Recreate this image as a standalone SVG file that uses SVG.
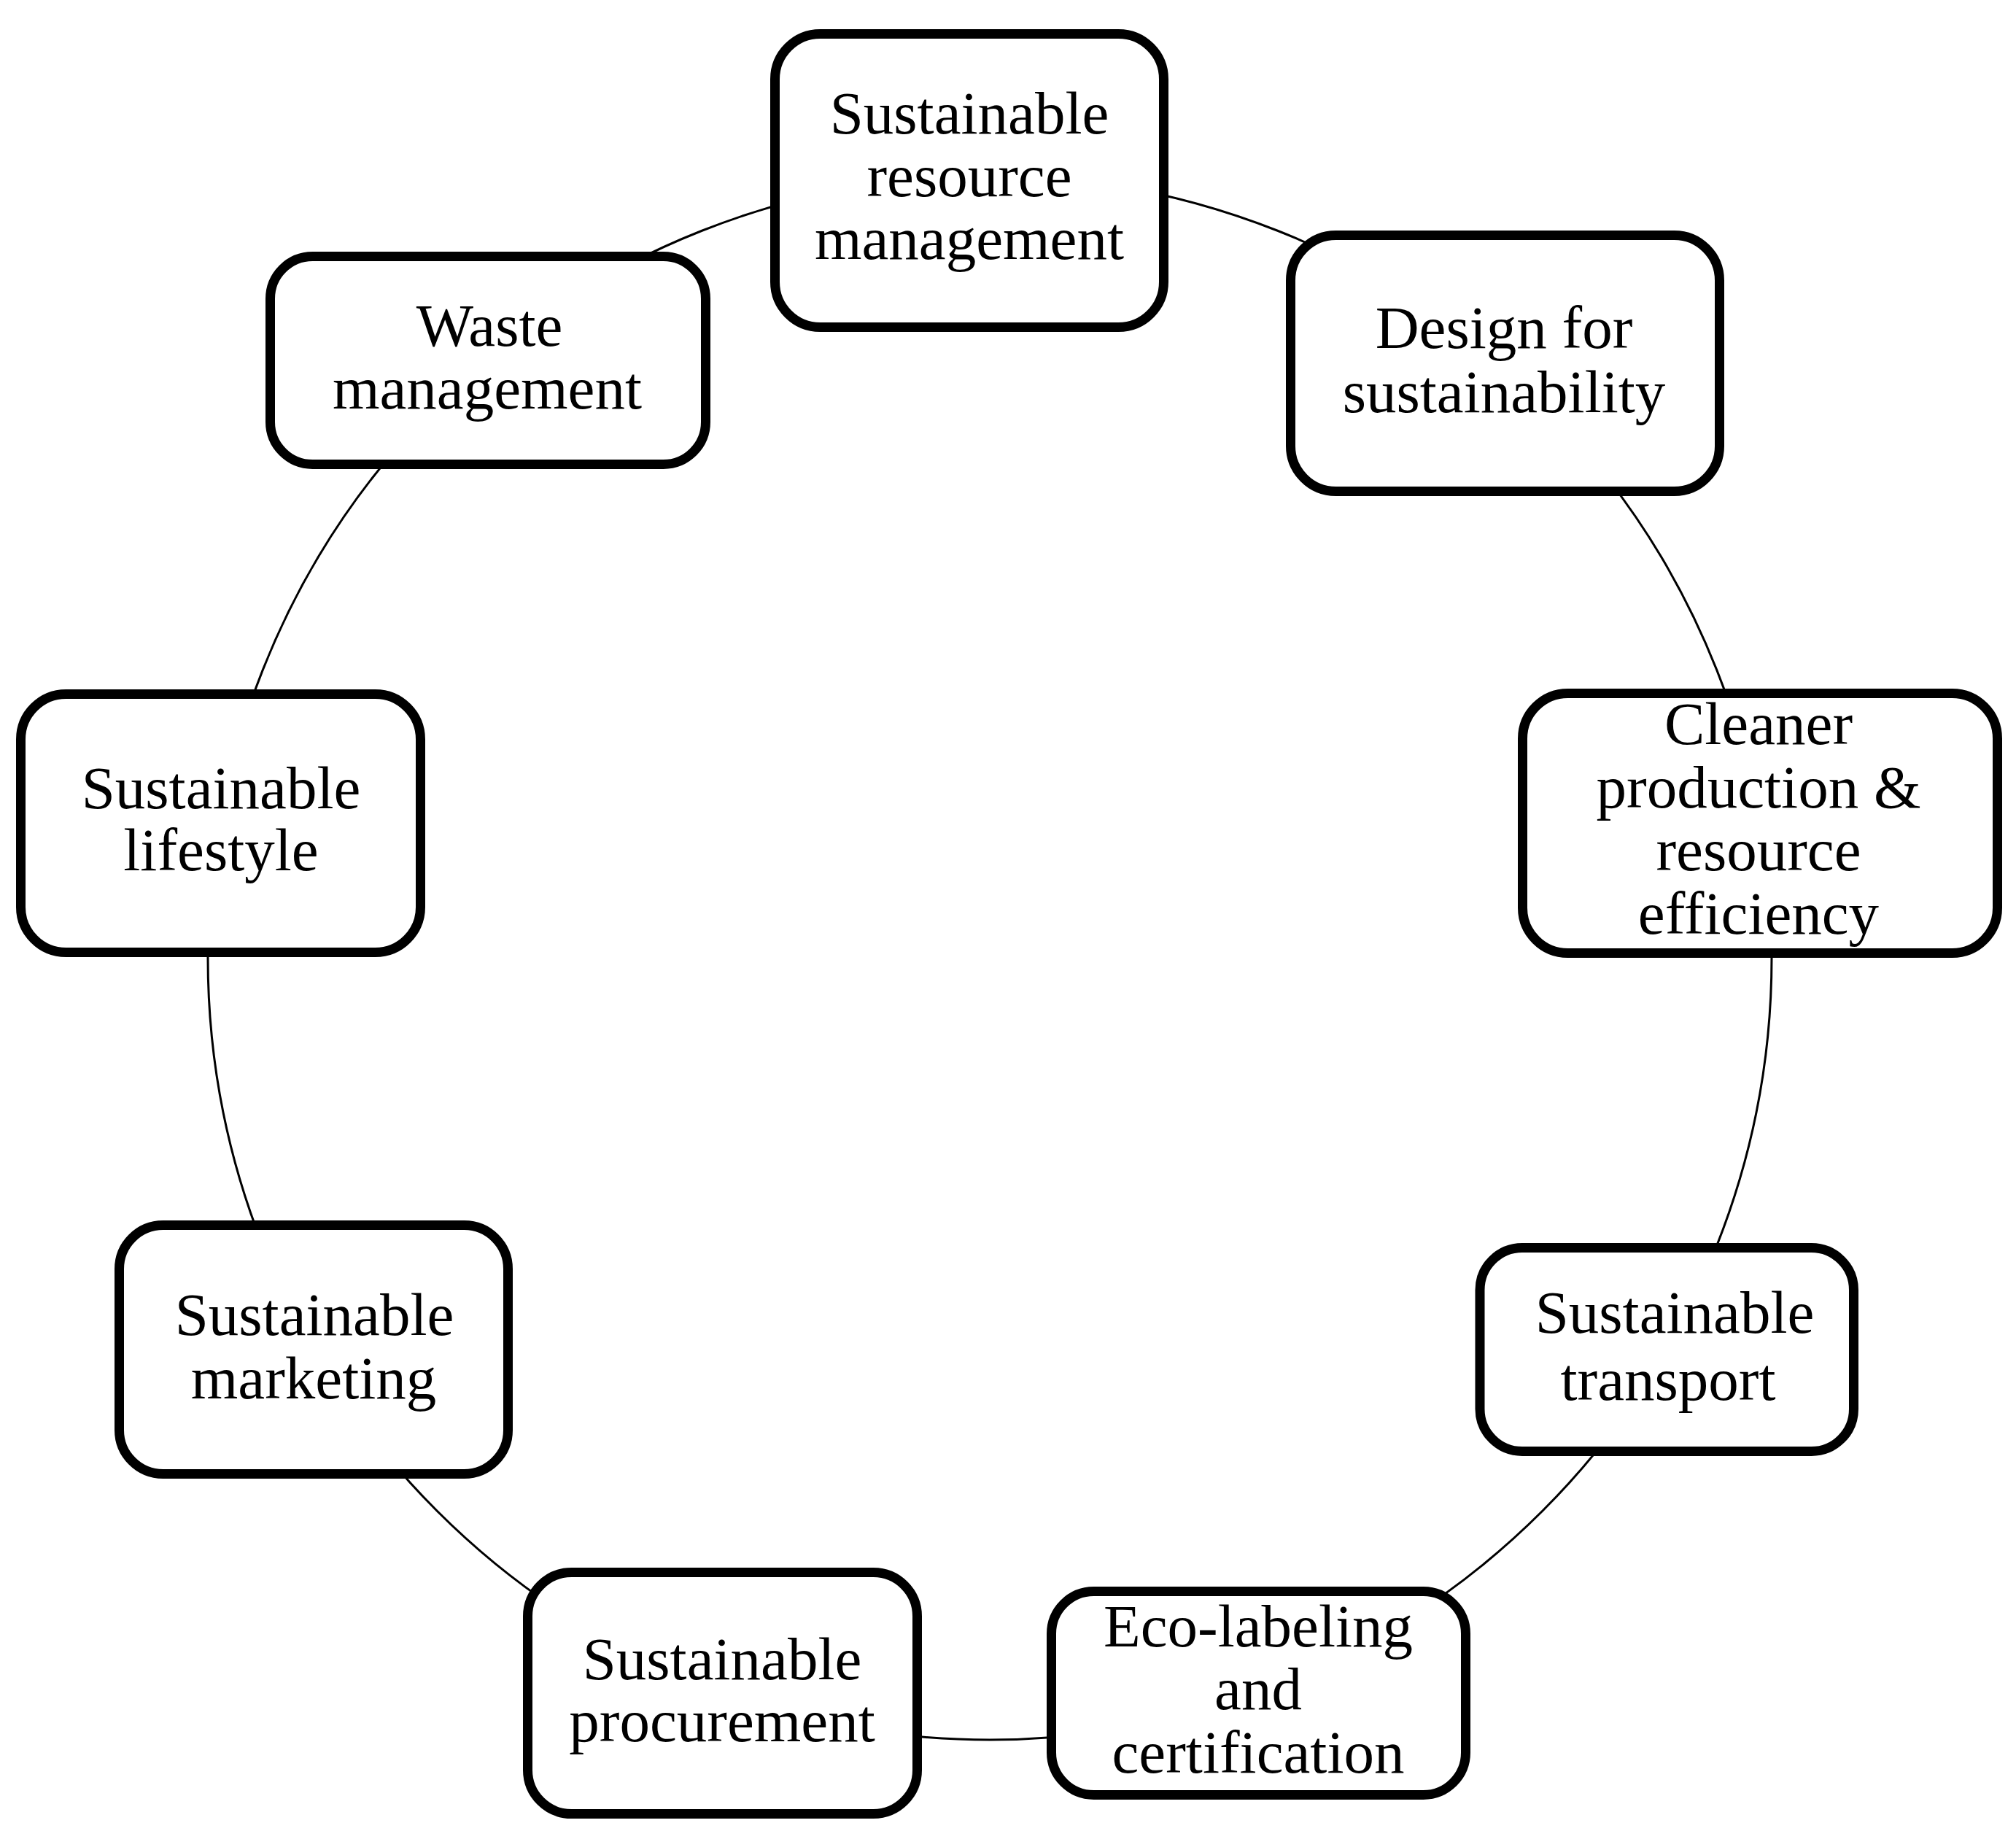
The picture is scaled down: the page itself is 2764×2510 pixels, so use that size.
<svg xmlns="http://www.w3.org/2000/svg" width="2764" height="2510" viewBox="0 0 2764 2510">
<style>
.box{fill:#fff;stroke:#000;stroke-width:13}
.lbl{font-family:"Liberation Serif","Times New Roman",serif;font-size:83px;fill:#000;text-anchor:middle}
.ring{fill:none;stroke:#000;stroke-width:3}
</style>
<rect width="2764" height="2510" fill="#fff"/>
<g id="connectors">
<circle class="ring" cx="1357" cy="1313" r="1072"/>
</g>
<g id="n1">
<rect class="box" x="1062.5" y="46.5" width="533" height="402" rx="62"/>
<text class="lbl" x="1329" y="183">Sustainable</text>
<text class="lbl" x="1329" y="269">resource</text>
<text class="lbl" x="1329" y="355">management</text>
</g>
<g id="n2">
<rect class="box" x="1769.5" y="322.5" width="588" height="351" rx="62"/>
<text class="lbl" x="2062" y="477">Design for</text>
<text class="lbl" x="2062" y="565">sustainability</text>
</g>
<g id="n3">
<rect class="box" x="2087.5" y="950.5" width="651" height="356" rx="62"/>
<text class="lbl" x="2411" y="1020">Cleaner</text>
<text class="lbl" x="2411" y="1107">production &amp;</text>
<text class="lbl" x="2411" y="1193">resource</text>
<text class="lbl" x="2411" y="1280">efficiency</text>
</g>
<g id="n4">
<rect class="box" x="2029" y="1710.5" width="512.5" height="279" rx="58"/>
<text class="lbl" x="2296" y="1827">Sustainable</text>
<text class="lbl" x="2287" y="1919">transport</text>
</g>
<g id="n5">
<rect class="box" x="1441.5" y="2181.5" width="568" height="279" rx="58"/>
<text class="lbl" x="1725" y="2257">Eco-labeling</text>
<text class="lbl" x="1725" y="2343">and</text>
<text class="lbl" x="1725" y="2430">certification</text>
</g>
<g id="n6">
<rect class="box" x="723.5" y="2155.5" width="534" height="331" rx="60"/>
<text class="lbl" x="990" y="2302">Sustainable</text>
<text class="lbl" x="990" y="2387">procurement</text>
</g>
<g id="n7">
<rect class="box" x="163.5" y="1679.5" width="533" height="341" rx="60"/>
<text class="lbl" x="431" y="1830">Sustainable</text>
<text class="lbl" x="430" y="1917">marketing</text>
</g>
<g id="n8">
<rect class="box" x="28.5" y="951.5" width="548" height="354" rx="62"/>
<text class="lbl" x="303" y="1108">Sustainable</text>
<text class="lbl" x="303" y="1193">lifestyle</text>
</g>
<g id="n9">
<rect class="box" x="370.5" y="351.5" width="597" height="285" rx="58"/>
<text class="lbl" x="671" y="474">Waste</text>
<text class="lbl" x="668" y="560">management</text>
</g>
</svg>
